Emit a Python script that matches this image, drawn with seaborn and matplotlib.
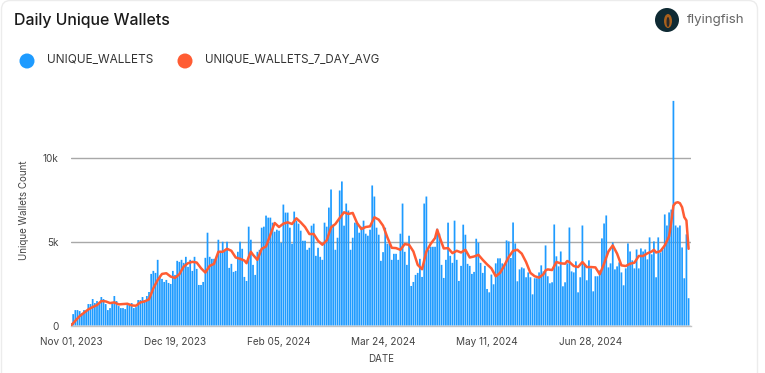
import numpy as np
import pandas as pd
import matplotlib
matplotlib.use("Agg")
import matplotlib.pyplot as plt
import seaborn as sns
from matplotlib.patches import Circle, Ellipse, FancyBboxPatch

# values, one per day from Nov 01, 2023
unique_wallets = [
    150, 680, 920, 920, 860, 720, 920, 820, 1280, 1280,
    1580, 1340, 1460, 1280, 1700, 1580, 1280, 920, 1040, 1320,
    1760, 1460, 1160, 1040, 1040, 980, 1220, 1220, 1340, 1040,
    1100, 1520, 1520, 1700, 1520, 1760, 2000, 3080, 3260, 3140,
    3920, 2960, 2780, 2600, 2720, 2540, 2480, 3260, 3020, 3860,
    3800, 3920, 3740, 4100, 3500, 3920, 3260, 4100, 3380, 2420,
    2420, 2600, 4040, 5540, 4100, 3980, 3980, 4100, 5120, 4460,
    5000, 4460, 5000, 3440, 3680, 3200, 3260, 4400, 5000, 4580,
    2900, 2660, 5900, 5120, 3620, 3020, 4400, 4520, 5840, 5900,
    6560, 6440, 6440, 6140, 5600, 5720, 5660, 4940, 7220, 6740,
    6740, 5840, 4880, 6800, 6260, 6080, 5660, 5060, 5060, 4520,
    4640, 5960, 6080, 4160, 4640, 4100, 3920, 6140, 5900, 7040,
    8120, 6020, 4520, 5240, 8060, 8600, 5960, 7280, 6860, 4520,
    5240, 6140, 6140, 5540, 5900, 6260, 5480, 5360, 5720, 8360,
    7700, 5840, 5420, 3860, 4380, 5840, 4880, 4880, 3920, 4280,
    4280, 3920, 5480, 7280, 4400, 3620, 5360, 2360, 2600, 3020,
    3140, 3980, 2900, 7280, 7700, 4520, 4700, 4700, 4700, 5780,
    5480, 3620, 2840, 3920, 6140, 4160, 3740, 6260, 3920, 2660,
    3560, 6020, 5420, 3680, 3560, 3080, 3200, 5180, 4940, 3740,
    3140, 3560, 2180, 1980, 3040, 2460, 3710, 4010, 4010, 3710,
    3650, 5080, 5020, 4030, 6150, 4900, 2640, 3350, 3470, 3410,
    2880, 3170, 2880, 1860, 2820, 2820, 3170, 3590, 3230, 4780,
    2940, 2520, 2580, 6030, 4130, 3530, 4420, 2340, 2580, 3710,
    5850, 3230, 3170, 3830, 1980, 2880, 5970, 3650, 2700, 3890,
    3410, 2040, 2940, 2940, 3290, 5200, 6090, 6570, 3470, 3710,
    4960, 3350, 3530, 3770, 3170, 2400, 3410, 4900, 4420, 3890,
    3410, 4540, 3410, 4600, 4420, 4540, 3950, 5260, 4250, 5020,
    2880, 5260, 4360, 4540, 6630, 5970, 6750, 6920, 13410, 5970,
    5850, 5970, 4660, 2820, 5440, 1630,
]

avg_days = [
    0, 2, 4, 6, 8, 10, 12, 14, 16, 18, 20, 22, 24, 26, 28, 30, 32, 34, 36, 38,
    40, 42, 44, 46, 48, 50, 52, 54, 56, 58, 60, 62, 64, 66, 68, 70, 72, 74, 76,
    78, 80, 81, 82, 83, 84, 86, 88, 90, 92, 94, 96, 98, 100, 102, 104, 106, 108,
    110, 112, 114, 116, 118, 120, 122, 124, 126, 128, 130, 132, 134, 136, 138,
    140, 142, 144, 146, 148, 150, 152, 154, 156, 158, 160, 162, 164, 166, 168,
    169, 170, 172, 174, 176, 178, 180, 182, 184, 186, 188, 190, 192, 194, 196,
    198, 200, 202, 204, 206, 208, 210, 212, 214, 216, 218, 219, 220, 222, 224,
    226, 228, 229, 230, 232, 234, 236, 238, 240, 242, 244, 246, 248, 250, 252,
    254, 256, 258, 260, 262, 264, 266, 268, 269, 270, 272, 274, 276, 277, 278,
    279, 280, 281, 282, 283, 284, 285,
]
avg_values = [
    0, 280, 560, 760, 960, 1100, 1220, 1460, 1440, 1340, 1380, 1260, 1280, 1300,
    1200, 1180, 1380, 1440, 1560, 2220, 2720, 3080, 3120, 2920, 2840, 3060, 3520,
    3720, 3800, 3760, 3420, 3160, 3560, 3680, 4400, 4400, 4580, 4460, 4060, 3980,
    3880, 3720, 4080, 4400, 4220, 3920, 4580, 4720, 5420, 6120, 5880, 6080, 6160,
    6060, 6400, 6160, 5880, 5460, 5460, 5060, 4820, 5080, 5860, 6060, 6420, 6760,
    6660, 6720, 6120, 5760, 5880, 5920, 6460, 6320, 5960, 5260, 4640, 4620, 4520,
    4860, 4820, 4420, 3620, 3360, 4420, 4880, 5220, 5720, 5320, 4600, 4620, 4320,
    4460, 4360, 4520, 4060, 4120, 4220, 3920, 3650, 3410, 2940, 3140, 3590, 4090,
    4460, 4520, 4290, 3790, 3140, 2940, 2860, 3060, 3290, 3350, 3310, 3790, 3710,
    3690, 3850, 3790, 3550, 3490, 3790, 3490, 3490, 3470, 3060, 3690, 4420, 4780,
    4290, 3590, 3550, 3690, 3750, 4150, 4150, 4310, 4420, 4520, 4360, 4440, 4780,
    5320, 6170, 7160, 7320, 7360, 7300, 7060, 6470, 6270, 4580,
]

tick_days = [0, 48, 96, 144, 192, 240]
tick_labels = ["Nov 01, 2023", "Dec 19, 2023", "Feb 05, 2024", "Mar 24, 2024", "May 11, 2024", "Jun 28, 2024"]
y_ticks = [0, 5000, 10000]
y_tick_labels = ["0", "5k", "10k"]

BLUE = "#1E9BFF"
ORANGE = "#FF5C33"
GRID = "#a8a8a8"

sns.set_theme(style="white")
plt.rcParams["font.family"] = ["Inter", "DejaVu Sans"]

W, H = 765, 373
fig = plt.figure(figsize=(W / 100, H / 100), dpi=100)

# card and header are drawn in pixel coordinates
bg = fig.add_axes([0, 0, 1, 1])
bg.set_xlim(0, W)
bg.set_ylim(H, 0)
bg.axis("off")
bg.add_patch(FancyBboxPatch((1.5, 0.5), 756, 400, boxstyle="round,pad=0,rounding_size=9",
                            fc="white", ec="#ececec", lw=1))
bg.text(14.5, 20.5, "Daily Unique Wallets", fontsize=11.45, fontweight="medium", color="#1a1a1a", va="center")
bg.add_patch(Circle((27, 61), 7.5, fc=BLUE, ec="none"))
bg.text(47, 60.5, "UNIQUE_WALLETS", fontsize=8.5, color="#333333", va="center")
bg.add_patch(Circle((185, 61), 7.5, fc=ORANGE, ec="none"))
bg.text(205, 60.5, "UNIQUE_WALLETS_7_DAY_AVG", fontsize=8.3, color="#333333", va="center")
bg.add_patch(Circle((667, 20), 12, fc="#0f2a33", ec="none"))
bg.add_patch(Ellipse((668, 21), 8, 14, fc="#a8601c", ec="none"))
bg.add_patch(Ellipse((668, 22), 3, 10, fc="#2a2a2a", ec="none"))
bg.text(687, 20.5, "flyingfish", fontsize=9.6, color="#666666", va="center")

# plot area: x 71..691, y 95..325.5 px
left, right, top, bottom = 71, 691, 95, 325.5
ax = fig.add_axes([left / W, 1 - bottom / H, (right - left) / W, (bottom - top) / H])
ax.patch.set_alpha(0)

df = pd.DataFrame({"day": np.arange(len(unique_wallets)), "UNIQUE_WALLETS": unique_wallets})
avg_df = pd.DataFrame({"day": avg_days, "UNIQUE_WALLETS_7_DAY_AVG": avg_values})

sns.barplot(data=df, x="day", y="UNIQUE_WALLETS", native_scale=True, color=BLUE,
            saturation=1, width=0.8, errorbar=None, ax=ax, zorder=2,
            linewidth=0, edgecolor="none")
# bars are under 2 px wide, snapping makes them uneven
for p in ax.patches:
    p.set_snap(False)
sns.lineplot(data=avg_df, x="day", y="UNIQUE_WALLETS_7_DAY_AVG", color=ORANGE,
             linewidth=1.8, ax=ax, zorder=3, errorbar=None)

ax.set_xlim(0, (right - left) / 2.167)
ax.set_ylim(0, (bottom - top) / 16.75 * 1000)
ax.set_xticks(tick_days)
ax.set_xticklabels(tick_labels)
ax.set_yticks(y_ticks)
ax.set_yticklabels(y_tick_labels)
ax.set_axisbelow(True)
ax.grid(False)
ax.yaxis.grid(True, color=GRID, lw=1)
for s in ["top", "right", "left"]:
    ax.spines[s].set_visible(False)
ax.spines["bottom"].set_color("#c4c4c4")
ax.spines["bottom"].set_linewidth(1)
ax.tick_params(axis="x", length=5, width=0.8, color="#c4c4c4", labelsize=7.2, labelcolor="#444444", pad=3)
ax.tick_params(axis="y", length=0, labelsize=7.2, labelcolor="#444444", pad=9)
ax.set_xlabel("DATE", fontsize=7, color="#444444", labelpad=5)
ax.set_ylabel("Unique Wallets Count", fontsize=7, color="#444444", labelpad=9.5)

fig.savefig("out.png", dpi=100)
